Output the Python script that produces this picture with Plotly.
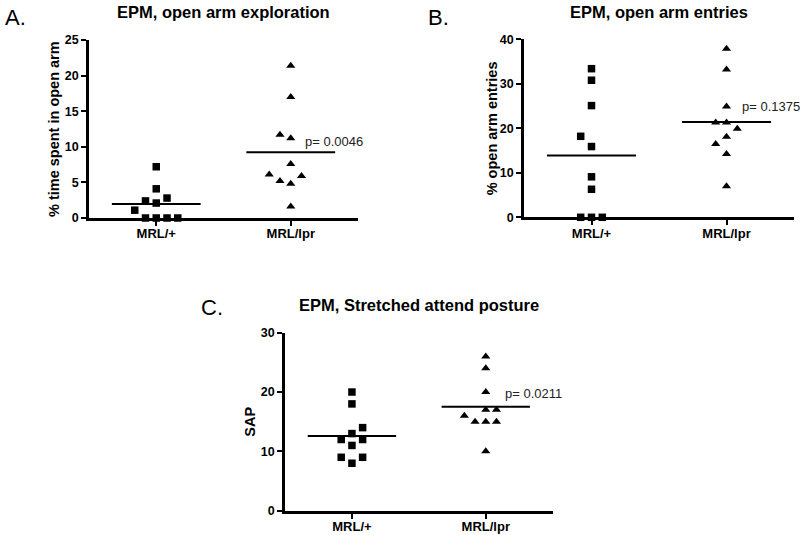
import numpy as np
import plotly.graph_objects as go

# ---------------- data ----------------
groups = ["MRL/+", "MRL/lpr"]

A_plus = [7.2, 4.1, 2.8, 2.4, 2.1, 1.1, 0, 0, 0, 0]
A_lpr = [21.4, 17.0, 11.7, 11.2, 7.6, 6.1, 5.9, 5.2, 4.8, 1.6]
B_plus = [33.4, 30.8, 25.1, 18.2, 15.9, 9.1, 6.3, 0, 0, 0]
B_lpr = [37.9, 33.2, 24.9, 21.3, 21.3, 19.9, 18.1, 16.5, 14.2, 7.0]
C_plus = [20, 18, 14, 13, 12, 12, 11, 9, 9, 8]
C_lpr = [26, 24, 20, 17, 17, 16, 15, 15, 15, 10]

p_values = ["p= 0.0046", "p= 0.1375", "p= 0.0211"]
titles = ["EPM, open arm exploration", "EPM, open arm entries", "EPM, Stretched attend posture"]
ylabels = ["% time spent in open arm", "% open arm entries", "SAP"]
panel_letters = ["A.", "B.", "C."]
yticks_A = [0, 5, 10, 15, 20, 25]
yticks_B = [0, 10, 20, 30, 40]
yticks_C = [0, 10, 20, 30]

# ---------------- layout helpers (positions / styles) ----------------
# horizontal scatter slots (column-scatter spreading, in slot units)
slots_A_plus = [0, 0, 1, -1, 0, -2, -1, 0, 1, 2]
slots_A_lpr = [0, 0, -1, 0, 0, -2, 1, -1, 0, 0]
slots_B_plus = [0, 0, 0, -1, 0, 0, 0, -1, 0, 1]
slots_B_lpr = [0, 0, 0, -1, 0, 1, 0, -1, 0, 0]
slots_C_plus = [0, 0, 1, 0, -1, 1, 0, -1, 1, 0]
slots_C_lpr = [0, 0, 0, 0, 1, -2, -1, 0, 1, 0]
SLOT = 0.08
HALF = 0.33

W, H = 800, 535
FONT = "Liberation Sans, Arial, Helvetica, sans-serif"

panels = [
    dict(plus=A_plus, lpr=A_lpr, sp=slots_A_plus, sl=slots_A_lpr, yt=yticks_A,
         px=(89, 358), py=(40, 218), ptxt=(1.09, 10.8), title_y=11.5, ylab_x=54,
         letter=(15, 18)),
    dict(plus=B_plus, lpr=B_lpr, sp=slots_B_plus, sl=slots_B_lpr, yt=yticks_B,
         px=(524, 794), py=(39.3, 217.3), ptxt=(1.1, 24.8), title_y=12, ylab_x=492,
         letter=(439, 18)),
    dict(plus=C_plus, lpr=C_lpr, sp=slots_C_plus, sl=slots_C_lpr, yt=yticks_C,
         px=(285, 552.7), py=(332.7, 510.7), ptxt=(1.13, 19.8), title_y=305, ylab_x=250,
         letter=(212, 307)),
]

fig = go.Figure()
annotations = []

for i, p in enumerate(panels):
    sfx = "" if i == 0 else str(i + 1)
    xa, ya = "x" + sfx, "y" + sfx
    for gi, (vals, slots, sym, sz) in enumerate([(p["plus"], p["sp"], "square", 7.5),
                                                 (p["lpr"], p["sl"], "triangle-up", 8)]):
        xs = [gi + s * SLOT for s in slots]
        fig.add_trace(go.Scatter(
            x=xs, y=vals, mode="markers", xaxis=xa, yaxis=ya,
            marker=dict(symbol=sym, size=sz, color="black", line=dict(width=0)),
            cliponaxis=False, showlegend=False, hoverinfo="y"))
        m = float(np.mean(vals))
        fig.add_trace(go.Scatter(
            x=[gi - HALF, gi + HALF], y=[m, m], mode="lines", xaxis=xa, yaxis=ya,
            line=dict(color="black", width=2), showlegend=False, hoverinfo="skip"))

    x0, x1 = p["px"]
    yt, yb = p["py"]
    xdom = [x0 / W, x1 / W]
    ydom = [1 - yb / H, 1 - yt / H]
    common = dict(showline=True, linecolor="black", linewidth=2.7,
                  ticks="outside", ticklen=5, tickwidth=2, tickcolor="black",
                  showgrid=False, zeroline=False, automargin=False)
    fig.layout["xaxis" + sfx] = dict(domain=xdom, range=[-0.5, 1.5], anchor=ya,
                                     tickvals=[0, 1], ticktext=groups, ticklabelstandoff=-3,
                                     tickfont=dict(family=FONT, size=13, color="black", weight="bold"),
                                     **common)
    fig.layout["yaxis" + sfx] = dict(domain=ydom, range=[0, p["yt"][-1]], anchor=xa,
                                     tickvals=p["yt"],
                                     tickfont=dict(family=FONT, size=12.5, color="black", weight="bold"),
                                     **common)

    # title
    annotations.append(dict(x=(x0 + x1) / 2 / W, y=1 - p["title_y"] / H, xref="paper", yref="paper",
                            text=titles[i], showarrow=False, xanchor="center", yanchor="middle",
                            font=dict(family=FONT, size=16.5, color="black", weight="bold")))
    # y label
    annotations.append(dict(x=p["ylab_x"] / W, y=1 - (yt + yb) / 2 / H, xref="paper", yref="paper",
                            text=ylabels[i], showarrow=False, textangle=-90,
                            xanchor="center", yanchor="middle",
                            font=dict(family=FONT, size=14.5, color="black", weight="bold")))
    # panel letter
    annotations.append(dict(x=p["letter"][0] / W, y=1 - p["letter"][1] / H, xref="paper", yref="paper",
                            text=panel_letters[i], showarrow=False, xanchor="center", yanchor="middle",
                            font=dict(family=FONT, size=22, color="black")))
    # p value
    annotations.append(dict(x=p["ptxt"][0], y=p["ptxt"][1], xref=xa, yref=ya,
                            text=p_values[i], showarrow=False, xanchor="left", yanchor="middle",
                            font=dict(family=FONT, size=13, color="#222222")))

fig.update_layout(width=W, height=H, margin=dict(l=0, r=0, t=0, b=0, pad=0, autoexpand=False),
                  plot_bgcolor="white", paper_bgcolor="white",
                  annotations=annotations, showlegend=False)

fig.write_html("out.html", config={"displayModeBar": False},
               post_script="document.body.style.margin='0';document.body.style.overflow='hidden';")
